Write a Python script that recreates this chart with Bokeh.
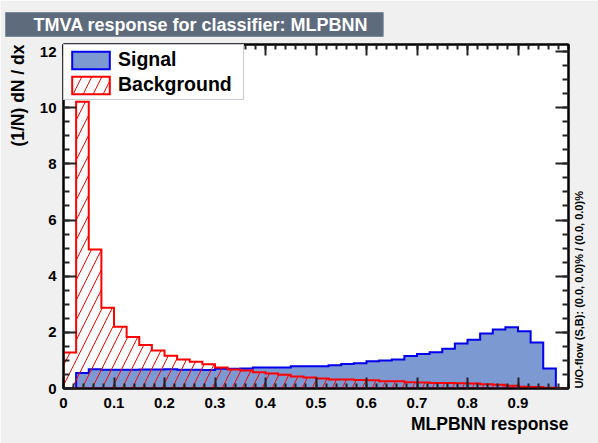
import numpy as np
from bokeh.plotting import figure
from bokeh.models import (LinearAxis, FixedTicker, Legend, LegendItem, Range1d, Title)
from bokeh.embed import file_html
from bokeh.resources import INLINE

# ---------------- data ----------------
bin_lo = 0.0
bin_hi = 1.0
n_bins = 40

signal = [0.00, 0.55, 0.69, 0.67, 0.67, 0.67, 0.68, 0.68, 0.69, 0.67,
          0.67, 0.66, 0.70, 0.70, 0.71, 0.75, 0.75, 0.75, 0.79, 0.79,
          0.79, 0.83, 0.87, 0.90, 0.97, 1.00, 1.03, 1.16, 1.23, 1.29,
          1.42, 1.60, 1.74, 1.96, 2.10, 2.18, 2.04, 1.64, 0.71, 0.02]

background = [1.28, 10.21, 4.95, 2.88, 2.20, 1.83, 1.55, 1.35, 1.17, 1.03,
              0.95, 0.86, 0.75, 0.68, 0.64, 0.58, 0.53, 0.49, 0.43, 0.39,
              0.36, 0.32, 0.32, 0.30, 0.29, 0.26, 0.26, 0.22, 0.21, 0.20,
              0.20, 0.19, 0.18, 0.15, 0.13, 0.10, 0.06, 0.05, 0.03, 0.02]

x_tick_vals = [0, 0.1, 0.2, 0.3, 0.4, 0.5, 0.6, 0.7, 0.8, 0.9]
x_tick_labels = ["0", "0.1", "0.2", "0.3", "0.4", "0.5", "0.6", "0.7", "0.8", "0.9"]
y_tick_vals = [0, 2, 4, 6, 8, 10, 12]
y_tick_labels = ["0", "2", "4", "6", "8", "10", "12"]

title_text = "TMVA response for classifier: MLPBNN"
x_title = "MLPBNN response"
y_title = "(1/N) dN / dx"
flow_text = "U/O-flow (S,B): (0.0, 0.0)% / (0.0, 0.0)%"
legend_labels = ["Signal", "Background"]

# ---------------- helpers ----------------
FONT = "Liberation Sans"
edges = np.linspace(bin_lo, bin_hi, n_bins + 1)


def step_outline(vals):
    xs = [edges[0]]
    ys = [0.0]
    for i, v in enumerate(vals):
        xs += [edges[i], edges[i + 1]]
        ys += [v, v]
    xs.append(edges[-1])
    ys.append(0.0)
    return xs, ys


y_max = 1.2 * max(background)

p = figure(width=598, height=443,
           x_range=Range1d(bin_lo, bin_hi), y_range=Range1d(0, y_max),
           output_backend="svg", toolbar_location=None,
           min_border_left=62, min_border_right=30,
           min_border_top=44, min_border_bottom=55,
           background_fill_color="white", border_fill_color="#f0f0f0")
p.xgrid.visible = False
p.ygrid.visible = False
p.outline_line_color = "black"
p.outline_line_width = 2

x_minor = [round(v, 2) for v in np.arange(0, 1.0001, 0.02)]
y_minor = [round(v, 2) for v in np.arange(0, 12.6, 0.5)]


def style_axis(ax, tick_in, minor_in, show_labels=True):
    ax.axis_line_color = "black"
    ax.axis_line_width = 2
    ax.major_tick_in = tick_in
    ax.major_tick_out = 0
    ax.minor_tick_in = minor_in
    ax.minor_tick_out = 0
    ax.major_tick_line_color = "#222222"
    ax.major_tick_line_width = 2
    ax.minor_tick_line_color = "#222222"
    ax.minor_tick_line_width = 2
    ax.major_label_text_font = FONT
    ax.major_label_text_font_style = "bold"
    ax.major_label_text_color = "black"
    if show_labels:
        ax.major_label_text_font_size = "15px"
    else:
        ax.major_label_text_font_size = "0px"
        ax.major_label_standoff = 0
    ax.axis_label_text_font = FONT
    ax.axis_label_text_font_style = "bold"
    ax.axis_label_text_color = "black"


xax = p.xaxis[0]
xax.ticker = FixedTicker(ticks=x_tick_vals, minor_ticks=x_minor)
xax.major_label_overrides = {x_tick_vals[0]: x_tick_labels[0]}
style_axis(xax, 11, 5)
xax.major_label_standoff = 9

yax = p.yaxis[0]
yax.ticker = FixedTicker(ticks=y_tick_vals, minor_ticks=y_minor)
style_axis(yax, 13, 6)
yax.major_label_standoff = 7

top_ax = LinearAxis(ticker=FixedTicker(ticks=x_tick_vals, minor_ticks=x_minor))
style_axis(top_ax, 11, 5, show_labels=False)
p.add_layout(top_ax, "above")

right_ax = LinearAxis(ticker=FixedTicker(ticks=y_tick_vals, minor_ticks=y_minor))
style_axis(right_ax, 13, 6, show_labels=False)
right_ax.axis_label = flow_text
right_ax.axis_label_text_font_size = "11px"
right_ax.axis_label_standoff = 10
if "axis_label_align" in right_ax.properties():
    right_ax.axis_label_align = "start"
try:
    right_ax.axis_label_orientation = np.pi / 2
except Exception:
    pass
p.add_layout(right_ax, "right")

# ---------------- histograms ----------------
sx, sy = step_outline(signal)
r_sig = p.patch(sx, sy, fill_color="#7d99d1", line_color="#0000ee",
                line_width=2, line_join="miter")
bx, by = step_outline(background)
r_bkg = p.patch(bx, by, fill_color=None, hatch_pattern="/", hatch_color="#ff0000",
                hatch_scale=20, hatch_weight=1, line_color="#ff0000",
                line_width=2, line_join="miter")

legend = Legend(items=[LegendItem(label=legend_labels[0], renderers=[r_sig]),
                       LegendItem(label=legend_labels[1], renderers=[r_bkg])],
                location="top_left", margin=0, padding=3, spacing=2,
                glyph_width=47, glyph_height=22, label_height=22, label_width=122,
                label_standoff=4, label_text_font=FONT, label_text_font_style="bold",
                label_text_font_size="19.5px", label_text_color="black",
                border_line_color="#8f9aa6", border_line_width=1.5,
                background_fill_color="white", background_fill_alpha=1.0)
legend.level = "underlay"
p.add_layout(legend)

# ---------------- title box ----------------
t = p.title
t.text = title_text
t.align = "left"
t.vertical_align = "top"
t.offset = -58
t.text_font = FONT
t.text_font_style = "bold"
t.text_font_size = "18px"
t.text_color = "white"
t.background_fill_color = "#5d6b7d"
t.border_line_color = "#7d8b9d"
t.border_line_width = 1
t.padding = dict(left=28, right=15, top=2, bottom=2)
t.standoff = 12

# ---------------- axis titles (as side-panel titles) ----------------
xt = Title(text=x_title, align="right", vertical_align="middle", offset=0, standoff=4,
           text_font=FONT, text_font_style="bold", text_font_size="17.5px",
           text_color="black")
p.add_layout(xt, "below")

yt = Title(text=y_title, align="right", vertical_align="top", offset=0, standoff=14,
           text_font=FONT, text_font_style="bold", text_font_size="17.5px",
           text_color="black")
p.add_layout(yt, "left")

open("out.html", "w").write(file_html(p, INLINE))
